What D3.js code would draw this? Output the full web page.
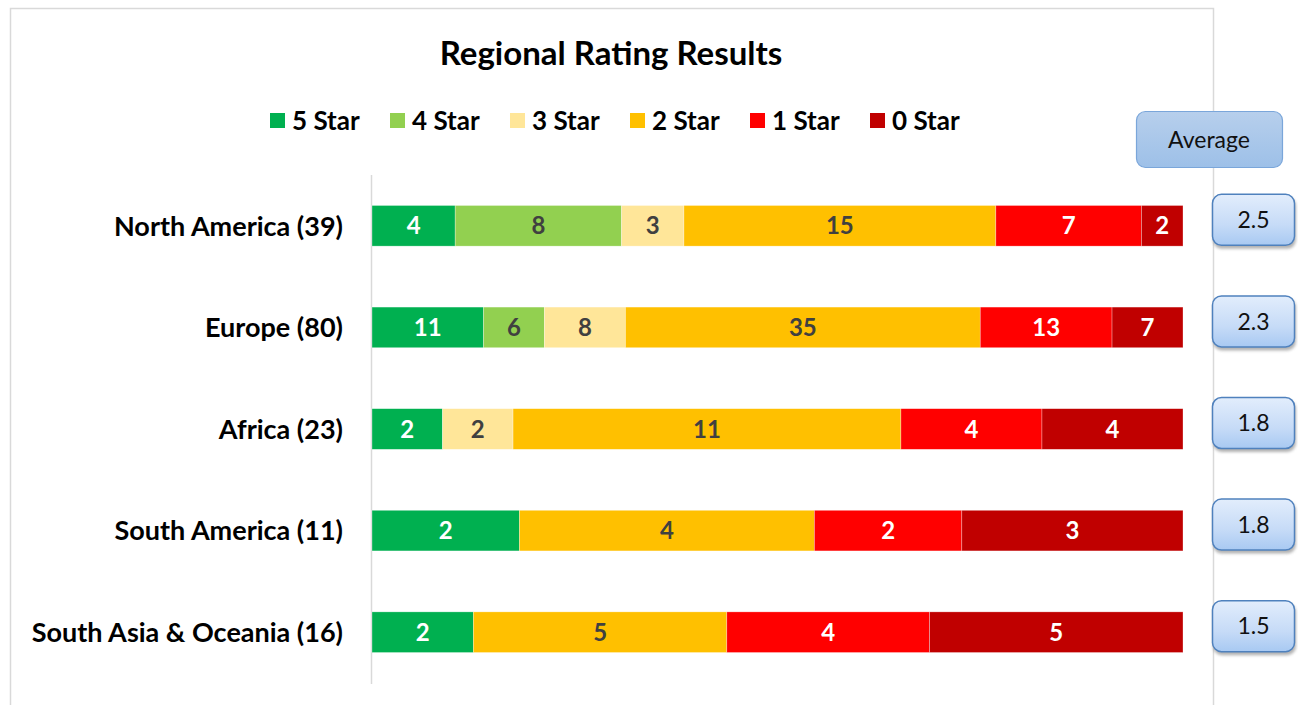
<!DOCTYPE html>
<html>
<head>
<meta charset="utf-8">
<script src="https://cdn.jsdelivr.net/npm/d3@7"></script>
<style>
  body { margin: 0; background: #fff; }
  svg { display: block; font-family: Lato, "Open Sans", sans-serif; }
</style>
</head>
<body>
<svg id="chart" width="1298" height="705"></svg>
<script>
// data
const regions = ["North America", "Europe", "Africa", "South America", "South Asia & Oceania"];
const ratings = ["5 Star", "4 Star", "3 Star", "2 Star", "1 Star", "0 Star"];
const counts = [
    [4, 8, 3, 15, 7, 2],
    [11, 6, 8, 35, 13, 7],
    [2, 0, 2, 11, 4, 4],
    [2, 0, 0, 4, 2, 3],
    [2, 0, 0, 5, 4, 5]
];
const averages = [2.5, 2.3, 1.8, 1.8, 1.5];
const ratingColors = ["#00b050", "#92d050", "#ffe699", "#ffc000", "#ff0000", "#c00000"];
const labelColors = ["#ffffff", "#404040", "#404040", "#404040", "#ffffff", "#ffffff"];

const svg = d3.select("#chart");

// gradients for the average boxes
const defs = svg.append("defs");
const g1 = defs.append("linearGradient").attr("id", "headGrad").attr("x1", 0).attr("y1", 0).attr("x2", 0).attr("y2", 1);
g1.append("stop").attr("offset", "0%").attr("stop-color", "#b7cfec");
g1.append("stop").attr("offset", "100%").attr("stop-color", "#9dc0e8");
const g2 = defs.append("linearGradient").attr("id", "valGrad").attr("x1", 0).attr("y1", 0).attr("x2", 0).attr("y2", 1);
g2.append("stop").attr("offset", "0%").attr("stop-color", "#e2edfc");
g2.append("stop").attr("offset", "60%").attr("stop-color", "#c6dbf7");
g2.append("stop").attr("offset", "100%").attr("stop-color", "#a8c9f2");
const blur = defs.append("filter").attr("id", "shadow").attr("x", "-20%").attr("y", "-20%").attr("width", "140%").attr("height", "150%");
blur.append("feGaussianBlur").attr("stdDeviation", 1.5);

// chart frame
svg.append("rect")
    .attr("x", 10.5).attr("y", 8.5)
    .attr("width", 1203).attr("height", 720)
    .attr("fill", "#fff")
    .attr("stroke", "#d9d9d9")
    .attr("stroke-width", 1.5);

// title
svg.append("text")
    .attr("x", 611).attr("y", 65)
    .attr("text-anchor", "middle")
    .style("font-size", "33px")
    .style("font-weight", 700)
    .attr("fill", "#000")
    .text("Regional Rating Results");

// legend
const legend = svg.append("g").attr("transform", "translate(270,0)");
ratings.forEach((r, i) => {
    const item = legend.append("g").attr("transform", `translate(${i * 120},0)`);
    item.append("rect")
        .attr("x", 0).attr("y", 113)
        .attr("width", 15).attr("height", 15)
        .attr("fill", ratingColors[i]);
    item.append("text")
        .attr("x", 22).attr("y", 130)
        .style("font-size", "26px")
        .style("font-weight", 700)
        .attr("fill", "#000")
        .text(r);
});

// scales
const x = d3.scaleLinear().domain([0, 1]).range([372, 1183]);
const y = d3.scaleBand()
    .domain(regions)
    .range([175, 683])
    .paddingInner(0.6)
    .paddingOuter(0.3);

// vertical axis line
svg.append("line")
    .attr("x1", 371.5).attr("x2", 371.5)
    .attr("y1", 175).attr("y2", 684)
    .attr("stroke", "#d9d9d9")
    .attr("stroke-width", 1.5);

// stacked bars (100%)
regions.forEach((reg, ri) => {
    const total = d3.sum(counts[ri]);
    const row = svg.append("g");
    let acc = 0;
    counts[ri].forEach((v, k) => {
        if (v === 0) return;
        const x0 = x(acc / total);
        const x1 = x((acc + v) / total);
        acc += v;
        row.append("rect")
            .attr("x", x0).attr("y", y(reg))
            .attr("width", x1 - x0).attr("height", y.bandwidth())
            .attr("fill", ratingColors[k])
            .attr("stroke", "#fff")
            .attr("stroke-width", 0.6)
            .attr("stroke-opacity", 0.5);
        row.append("text")
            .attr("x", (x0 + x1) / 2)
            .attr("y", y(reg) + y.bandwidth() / 2)
            .attr("dy", "0.36em")
            .attr("text-anchor", "middle")
            .style("font-size", "24px")
            .style("font-weight", 700)
            .attr("fill", labelColors[k])
            .text(v);
    });

    // category label
    svg.append("text")
        .attr("x", 343)
        .attr("y", y(reg) + y.bandwidth() / 2)
        .attr("dy", "0.36em")
        .attr("text-anchor", "end")
        .style("font-size", "27px")
        .style("font-weight", 700)
        .attr("fill", "#000")
        .text(`${reg} (${total})`);
});

// "Average" header box
svg.append("rect")
    .attr("x", 1136.5).attr("y", 111.5)
    .attr("width", 146).attr("height", 56)
    .attr("rx", 9)
    .attr("fill", "url(#headGrad)")
    .attr("stroke", "#7aa6da")
    .attr("stroke-width", 1.2);
svg.append("text")
    .attr("x", 1209).attr("y", 140)
    .attr("dy", "0.36em")
    .attr("text-anchor", "middle")
    .style("font-size", "23px")
    .attr("fill", "#111")
    .text("Average");

// average value boxes
regions.forEach((reg, ri) => {
    const cy = y(reg) + y.bandwidth() / 2 - 6;
    const g = svg.append("g").attr("transform", `translate(1212,${cy - 26})`);
    g.append("rect")
        .attr("x", 1).attr("y", 3)
        .attr("width", 83).attr("height", 52)
        .attr("rx", 9)
        .attr("fill", "#7f7f7f")
        .attr("opacity", 0.6)
        .attr("filter", "url(#shadow)");
    g.append("rect")
        .attr("x", 0.5).attr("y", 0.5)
        .attr("width", 82).attr("height", 51)
        .attr("rx", 9)
        .attr("fill", "url(#valGrad)")
        .attr("stroke", "#4f81bd")
        .attr("stroke-width", 1.5);
    g.append("text")
        .attr("x", 41.5).attr("y", 26)
        .attr("dy", "0.36em")
        .attr("text-anchor", "middle")
        .style("font-size", "23px")
        .attr("fill", "#111")
        .text(averages[ri].toFixed(1));
});
</script>
</body>
</html>
